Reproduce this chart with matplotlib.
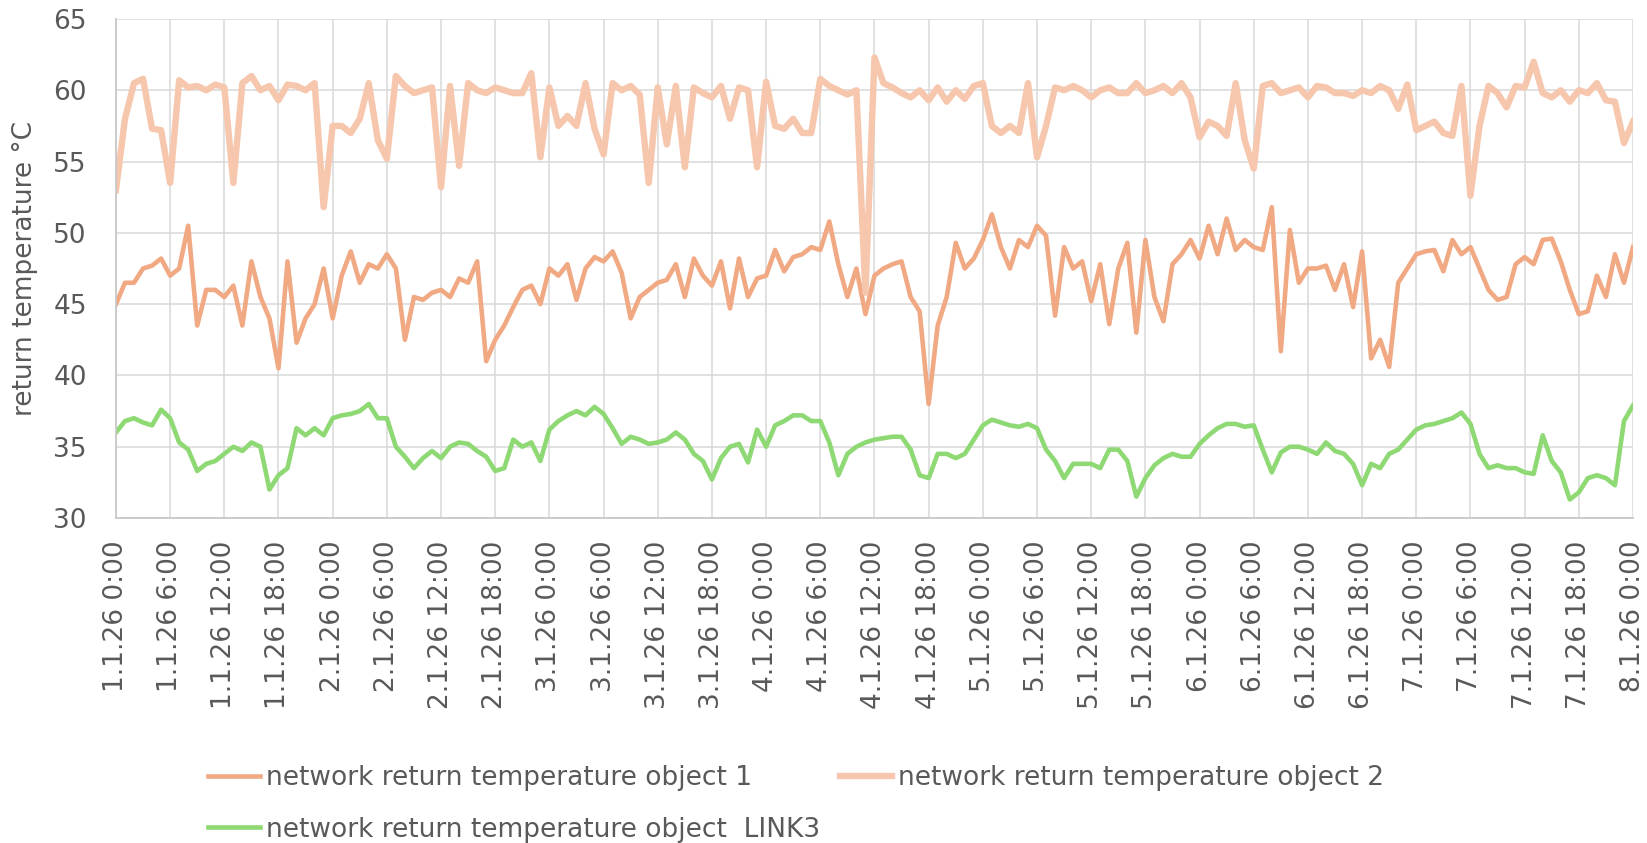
import matplotlib.pyplot as plt
import numpy as np

# hourly readings 1.1.26 0:00 .. 8.1.26 0:00, one row per day
hours = np.arange(0, 169)

object1 = [
    45.0, 46.5, 46.5, 47.5, 47.7, 48.2, 47.0, 47.5, 50.5, 43.5, 46.0, 46.0,
    45.5, 46.3, 43.5, 48.0, 45.5, 44.0, 40.5, 48.0, 42.3, 44.0, 45.0, 47.5,
    44.0, 47.0, 48.7, 46.5, 47.8, 47.5, 48.5, 47.5, 42.5, 45.5, 45.3, 45.8,
    46.0, 45.5, 46.8, 46.5, 48.0, 41.0, 42.5, 43.5, 44.8, 46.0, 46.3, 45.0,
    47.5, 47.0, 47.8, 45.3, 47.5, 48.3, 48.0, 48.7, 47.2, 44.0, 45.5, 46.0,
    46.5, 46.7, 47.8, 45.5, 48.2, 47.0, 46.3, 48.0, 44.7, 48.2, 45.5, 46.8,
    47.0, 48.8, 47.3, 48.3, 48.5, 49.0, 48.8, 50.8, 47.8, 45.5, 47.5, 44.3,
    47.0, 47.5, 47.8, 48.0, 45.5, 44.5, 38.0, 43.5, 45.5, 49.3, 47.5, 48.2,
    49.5, 51.3, 49.0, 47.5, 49.5, 49.0, 50.5, 49.8, 44.2, 49.0, 47.5, 48.0,
    45.2, 47.8, 43.6, 47.5, 49.3, 43.0, 49.5, 45.5, 43.8, 47.8, 48.5, 49.5,
    48.2, 50.5, 48.5, 51.0, 48.8, 49.5, 49.0, 48.8, 51.8, 41.7, 50.2, 46.5,
    47.5, 47.5, 47.7, 46.0, 47.8, 44.8, 48.7, 41.2, 42.5, 40.6, 46.5, 47.5,
    48.5, 48.7, 48.8, 47.3, 49.5, 48.5, 49.0, 47.5, 46.0, 45.3, 45.5, 47.8,
    48.3, 47.8, 49.5, 49.6, 48.0, 46.0, 44.3, 44.5, 47.0, 45.5, 48.5, 46.5,
    49.0,
]

object2 = [
    53.0, 58.0, 60.5, 60.8, 57.3, 57.2, 53.5, 60.7, 60.2, 60.3, 60.0, 60.4,
    60.2, 53.5, 60.5, 61.0, 60.0, 60.3, 59.3, 60.4, 60.3, 60.0, 60.5, 51.8,
    57.5, 57.5, 57.0, 58.0, 60.5, 56.5, 55.2, 61.0, 60.3, 59.8, 60.0, 60.2,
    53.2, 60.3, 54.7, 60.5, 60.0, 59.8, 60.2, 60.0, 59.8, 59.8, 61.2, 55.3,
    60.2, 57.5, 58.2, 57.5, 60.5, 57.3, 55.5, 60.5, 60.0, 60.3, 59.7, 53.5,
    60.2, 56.2, 60.3, 54.6, 60.2, 59.8, 59.5, 60.3, 58.0, 60.2, 60.0, 54.6,
    60.6, 57.5, 57.3, 58.0, 57.0, 57.0, 60.8, 60.3, 60.0, 59.7, 60.0, 45.8,
    62.3, 60.5, 60.2, 59.8, 59.5, 60.0, 59.3, 60.2, 59.2, 60.0, 59.4, 60.3,
    60.5, 57.5, 57.0, 57.5, 57.0, 60.5, 55.3, 57.5, 60.2, 60.0, 60.3, 60.0,
    59.5, 60.0, 60.2, 59.8, 59.8, 60.5, 59.8, 60.0, 60.3, 59.8, 60.5, 59.5,
    56.7, 57.8, 57.5, 56.8, 60.5, 56.5, 54.5, 60.3, 60.5, 59.8, 60.0, 60.2,
    59.5, 60.3, 60.2, 59.8, 59.8, 59.6, 60.0, 59.8, 60.3, 60.0, 58.7, 60.4,
    57.2, 57.5, 57.8, 57.0, 56.8, 60.3, 52.6, 57.5, 60.3, 59.8, 58.8, 60.3,
    60.2, 62.0, 59.8, 59.5, 60.0, 59.2, 60.0, 59.8, 60.5, 59.3, 59.2, 56.3,
    57.8,
]

link3 = [
    36.0, 36.8, 37.0, 36.7, 36.5, 37.6, 37.0, 35.3, 34.8, 33.3, 33.8, 34.0,
    34.5, 35.0, 34.7, 35.3, 35.0, 32.0, 33.0, 33.5, 36.3, 35.8, 36.3, 35.8,
    37.0, 37.2, 37.3, 37.5, 38.0, 37.0, 37.0, 35.0, 34.3, 33.5, 34.2, 34.7,
    34.2, 35.0, 35.3, 35.2, 34.7, 34.3, 33.3, 33.5, 35.5, 35.0, 35.3, 34.0,
    36.2, 36.8, 37.2, 37.5, 37.2, 37.8, 37.3, 36.3, 35.2, 35.7, 35.5, 35.2,
    35.3, 35.5, 36.0, 35.5, 34.5, 34.0, 32.7, 34.2, 35.0, 35.2, 33.9, 36.2,
    35.0, 36.5, 36.8, 37.2, 37.2, 36.8, 36.8, 35.3, 33.0, 34.5, 35.0, 35.3,
    35.5, 35.6, 35.7, 35.7, 34.8, 33.0, 32.8, 34.5, 34.5, 34.2, 34.5, 35.5,
    36.5, 36.9, 36.7, 36.5, 36.4, 36.6, 36.3, 34.8, 34.0, 32.8, 33.8, 33.8,
    33.8, 33.5, 34.8, 34.8, 34.0, 31.5, 32.8, 33.7, 34.2, 34.5, 34.3, 34.3,
    35.2, 35.8, 36.3, 36.6, 36.6, 36.4, 36.5, 34.8, 33.2, 34.6, 35.0, 35.0,
    34.8, 34.5, 35.3, 34.7, 34.5, 33.8, 32.3, 33.8, 33.5, 34.5, 34.8, 35.5,
    36.2, 36.5, 36.6, 36.8, 37.0, 37.4, 36.6, 34.5, 33.5, 33.7, 33.5, 33.5,
    33.2, 33.1, 35.8, 34.0, 33.2, 31.3, 31.8, 32.8, 33.0, 32.8, 32.3, 36.8,
    37.9,
]

tick_hours = list(range(0, 169, 6))
tick_labels = [f"{1 + h // 24}.1.26 {h % 24}:00" for h in tick_hours]

TEXT = '#595959'
plt.rcParams['font.family'] = ['DejaVu Sans']

fig = plt.figure(figsize=(16.47, 8.43), dpi=100)
ax = fig.add_axes([0.0704, 0.3855, 0.9211, 0.592])

l1, = ax.plot(hours, object1, color='#F1A983', lw=3.3,
              label='network return temperature object 1')
l2, = ax.plot(hours, object2, color='#F6C6AD', lw=4.6,
              label='network return temperature object 2')
l3, = ax.plot(hours, link3, color='#8ED973', lw=3.3,
              label='network return temperature object  LINK3')

ax.set_xlim(0, 168)
ax.set_ylim(30, 65)
ax.set_yticks(range(30, 66, 5))
ax.set_xticks(tick_hours)
ax.set_xticklabels(tick_labels, rotation=90)
ax.tick_params(axis='x', length=0, pad=16, labelsize=19, labelcolor=TEXT)
ax.tick_params(axis='y', length=0, pad=21, labelsize=19, labelcolor=TEXT)
ax.grid(True, color='#d9d9d9', lw=1.1)
ax.set_axisbelow(True)
for s in ['top', 'right']:
    ax.spines[s].set_visible(False)
for s in ['left', 'bottom']:
    ax.spines[s].set_color('#c8c8c8')
    ax.spines[s].set_linewidth(1.3)

ax.set_ylabel('return temperature °C', fontsize=19, color=TEXT)
ax.yaxis.set_label_coords(-0.0514, 0.5)

leg = fig.legend(handles=[l1, l3, l2], ncol=2, loc='upper left',
                 bbox_to_anchor=(0.1263, 0.092), frameon=False, fontsize=19,
                 labelcolor=TEXT, handlelength=1.97, handletextpad=0.23,
                 columnspacing=0.75, labelspacing=0.95, borderpad=0,
                 borderaxespad=0)

fig.savefig('out.png', dpi=100)
